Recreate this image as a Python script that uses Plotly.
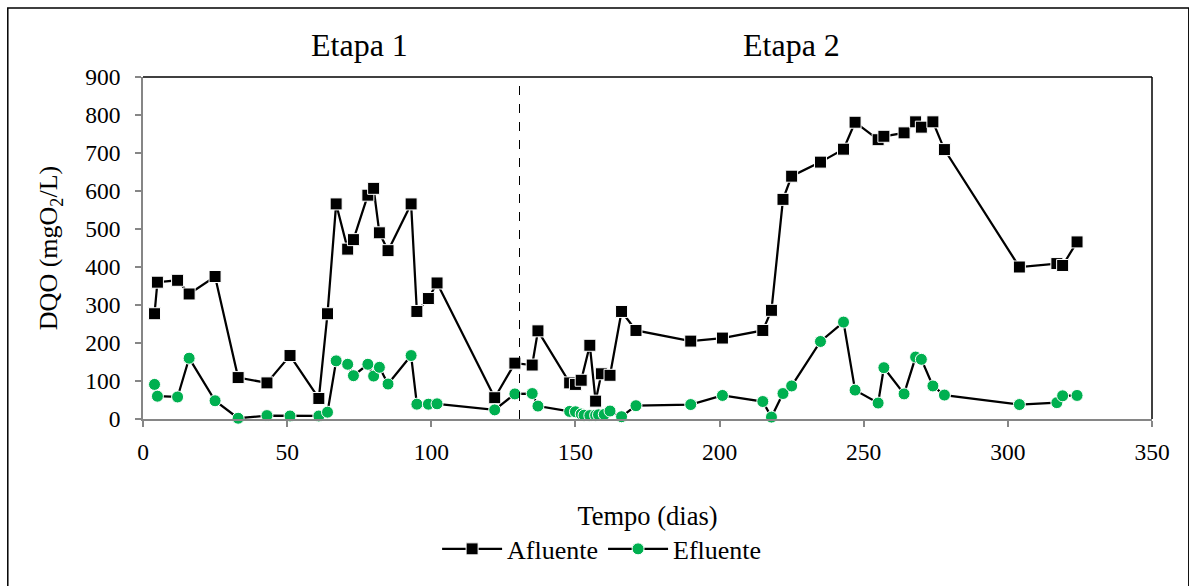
import plotly.graph_objects as go

# Days of sampling and COD values (mgO2/L)
dias_afluente = [4, 5, 12, 16, 25, 33, 43, 51, 61, 64, 67, 71, 73, 78, 80, 82, 85, 93, 95, 99, 102,
                 122, 129, 135, 137, 148, 150, 152, 155, 157, 159, 162, 166, 171, 190, 201,
                 215, 218, 222, 225, 235, 243, 247, 255, 257, 264, 268, 270, 274, 278,
                 304, 317, 319, 324]
dqo_afluente = [277, 360, 365, 329, 375, 109, 95, 167, 54, 277, 566, 447, 472, 589, 607, 490, 443, 566, 283, 317, 358,
                56, 147, 142, 232, 95, 91, 102, 194, 47, 119, 115, 283, 233, 205, 213,
                233, 286, 578, 639, 676, 710, 781, 735, 744, 753, 782, 768, 782, 709,
                400, 409, 404, 466]

dias_efluente = [4, 5, 12, 16, 25, 33, 43, 51, 61, 64, 67, 71, 73, 78, 80, 82, 85, 93, 95, 99, 102,
                 122, 129, 135, 137, 148, 150, 152, 153, 155, 157, 158, 160, 162, 166, 171, 190, 201,
                 215, 218, 222, 225, 235, 243, 247, 255, 257, 264, 268, 270, 274, 278,
                 304, 317, 319, 324]
dqo_efluente = [91, 60, 58, 160, 48, 2, 9, 8, 8, 18, 153, 144, 114, 144, 113, 136, 92, 167, 39, 39, 40,
                24, 66, 67, 34, 20, 19, 13, 10, 9, 10, 11, 12, 21, 6, 35, 38, 62,
                46, 5, 67, 87, 204, 255, 76, 42, 135, 66, 163, 157, 87, 63,
                38, 43, 61, 62]

x_ticks = [0, 50, 100, 150, 200, 250, 300, 350]
y_ticks = [0, 100, 200, 300, 400, 500, 600, 700, 800, 900]

dia_troca_etapa = 130.6
etapas = ["Etapa 1", "Etapa 2"]
etapas_x = [75, 225]

FONT = "Liberation Serif, Times New Roman, serif"
AXIS_GRAY = "#868686"

fig = go.Figure()

fig.add_trace(go.Scatter(
    x=dias_afluente, y=dqo_afluente, name="Afluente", mode="lines+markers",
    line=dict(color="black", width=2.25),
    marker=dict(symbol="square", size=12, color="black", line=dict(color="white", width=1)),
    cliponaxis=False,
))
fig.add_trace(go.Scatter(
    x=dias_efluente, y=dqo_efluente, name="Efluente", mode="lines+markers",
    line=dict(color="black", width=2.25),
    marker=dict(symbol="circle", size=12, color="#00B050", line=dict(color="white", width=1)),
    cliponaxis=False,
))

shapes = [
    # stage separator
    dict(type="line", xref="x", yref="paper", x0=dia_troca_etapa, x1=dia_troca_etapa, y0=0, y1=1,
         line=dict(color="black", width=1, dash="dash")),
    # top and right borders of the plot area
    dict(type="line", xref="paper", yref="paper", x0=0, x1=1, y0=1, y1=1,
         line=dict(color="black", width=1.5)),
    dict(type="line", xref="paper", yref="paper", x0=1, x1=1, y0=0, y1=1,
         line=dict(color="black", width=1.5)),
    # outer frame
    dict(type="rect", xref="paper", yref="paper", x0=-0.134, x1=1.0365, y0=-0.52, y1=1.2015,
         line=dict(color="black", width=1.5), fillcolor="rgba(0,0,0,0)"),
]

annotations = [
    dict(text=t, x=xv, y=1.094, xref="x", yref="paper", showarrow=False,
         font=dict(family=FONT, size=32, color="black"), xanchor="center", yanchor="middle")
    for t, xv in zip(etapas, etapas_x)
]

fig.update_layout(
    width=1189, height=586,
    margin=dict(l=143, r=37, t=77, b=167),
    paper_bgcolor="white", plot_bgcolor="white",
    font=dict(family=FONT, size=24, color="black"),
    shapes=shapes,
    annotations=annotations,
    showlegend=True,
    legend=dict(orientation="h", x=0.455, y=-0.38, xanchor="center", yanchor="middle",
                font=dict(family=FONT, size=26), itemwidth=60, bgcolor="rgba(0,0,0,0)"),
    xaxis=dict(
        range=[0, 350], tickvals=x_ticks, ticktext=[str(v) for v in x_ticks],
        showgrid=False, zeroline=False, showline=True, linecolor=AXIS_GRAY, linewidth=1.5,
        ticks="outside", ticklen=6, tickcolor=AXIS_GRAY, tickwidth=1.5,
        tickfont=dict(family=FONT, size=23.5), ticklabelstandoff=5,
        title=dict(text="Tempo (dias)", font=dict(family=FONT, size=26.5), standoff=42),
    ),
    yaxis=dict(
        range=[0, 900], tickvals=y_ticks, ticktext=[str(v) for v in y_ticks],
        showgrid=False, zeroline=False, showline=True, linecolor=AXIS_GRAY, linewidth=1.5,
        ticks="outside", ticklen=6, tickcolor=AXIS_GRAY, tickwidth=1.5,
        tickfont=dict(family=FONT, size=23.5), ticklabelstandoff=10,
        title=dict(text="DQO (mgO<sub>2</sub>/L)", font=dict(family=FONT, size=26), standoff=20),
    ),
)

fig.write_html("out.html")
